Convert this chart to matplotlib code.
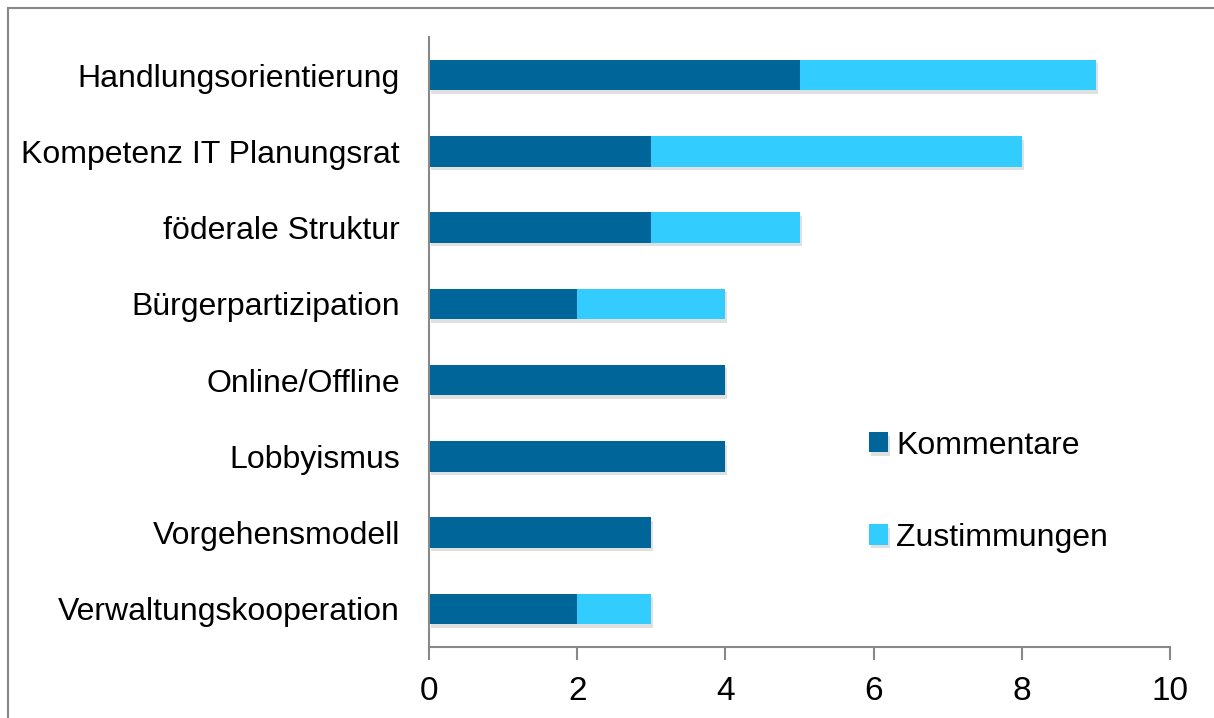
import matplotlib.pyplot as plt
import matplotlib.patheffects as pe
from matplotlib.patches import Rectangle

categories = ['Handlungsorientierung', 'Kompetenz IT Planungsrat', 'föderale Struktur',
              'Bürgerpartizipation', 'Online/Offline', 'Lobbyismus',
              'Vorgehensmodell', 'Verwaltungskooperation']
kommentare = [5, 3, 3, 2, 4, 4, 3, 2]
zustimmungen = [4, 5, 2, 2, 0, 0, 0, 1]
xticks = [0, 2, 4, 6, 8, 10]

plt.rcParams['font.family'] = ['Liberation Sans', 'DejaVu Sans']

W, H = 1214, 718
fig = plt.figure(figsize=(W / 100, H / 100), dpi=100)
ax = fig.add_axes([429 / W, 1 - 647 / H, (1170 - 429) / W, (647 - 37) / H])

y = list(range(len(categories)))
shadow = [pe.SimplePatchShadow(offset=(1.5, -2.5), shadow_rgbFace='#999999', alpha=0.3), pe.Normal()]
b1 = ax.barh(y, kommentare, height=0.4, color='#006699', label='Kommentare')
b2 = ax.barh(y, zustimmungen, left=kommentare, height=0.4, color='#33CCFF', label='Zustimmungen')
for bars in (b1, b2):
    for p in bars:
        p.set_path_effects(shadow)

ax.set_ylim(len(categories) - 0.5, -0.5)
ax.set_xlim(0, 10)
ax.set_yticks(y)
ax.set_yticklabels(categories, fontsize=23)
ax.set_xticks(xticks)
ax.set_xticklabels([str(v) for v in xticks], fontsize=24)
ax.tick_params(axis='y', length=0, pad=21)
ax.tick_params(axis='x', length=9, width=1.5, color='#888888', pad=12)
for s in ('top', 'right'):
    ax.spines[s].set_visible(False)
for s in ('left', 'bottom'):
    ax.spines[s].set_color('#888888')
    ax.spines[s].set_linewidth(1.5)

leg = ax.legend(loc='upper left', bbox_to_anchor=(0.555, 0.402), frameon=False, fontsize=23,
                handlelength=0.6, handleheight=0.6, handletextpad=0.25, labelspacing=1.95)

fig.patches.append(Rectangle((8 / W, -0.1), 1.2, 1 - 8 / H + 0.1, transform=fig.transFigure,
                             fill=False, edgecolor='#888888', linewidth=1.5))

fig.savefig('out.png', dpi=100)
